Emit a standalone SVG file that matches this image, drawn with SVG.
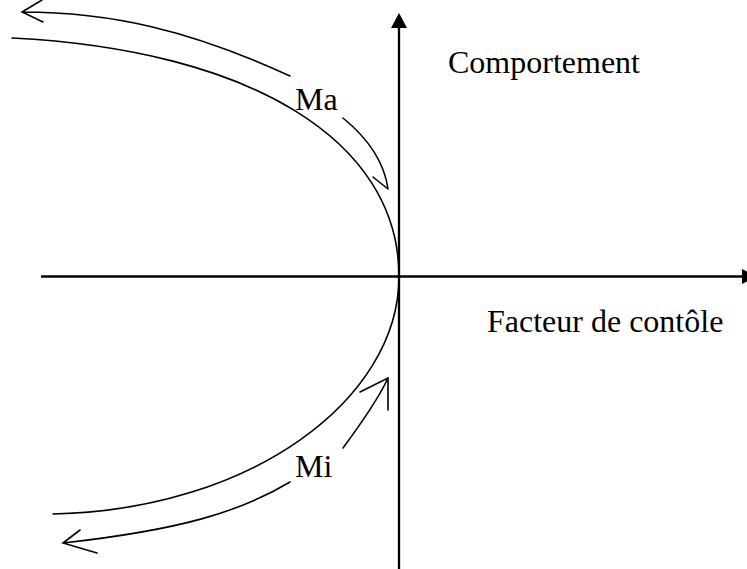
<svg xmlns="http://www.w3.org/2000/svg" width="747" height="569" viewBox="0 0 747 569">
<style>
.ax{stroke:#000;stroke-width:2.3;fill:none}
.cv{stroke:#000;stroke-width:1.6;fill:none;stroke-linecap:round;stroke-linejoin:miter}
.lbl{font-family:"Liberation Serif","Times New Roman",serif;font-size:32px;fill:#000}
</style>
<rect width="747" height="569" fill="#fff"/>
<g id="axes">
<line class="ax" x1="41" y1="276.5" x2="744" y2="276.5"/>
<polygon points="742,269 757,276.5 742,284" fill="#000"/>
<line class="ax" x1="399" y1="569" x2="399" y2="26"/>
<polygon points="399,13 391,28 407,28" fill="#000"/>
</g>
<g id="curve">
<path class="cv" d="M12,38 C250,50 399,140 399,276.5 C399,400 250,510 53,514"/>
</g>
<g id="connectors">
<path class="cv" d="M290,76 C190,30 110,12 22,12 M42,0 L22,12 L43,22"/>
<path class="cv" d="M343,118 C365,136 384,160 388,189 M373,177 L388,189"/>
<path class="cv" d="M343,448 C360,425 378,400 388,378 M360,392 L388,378 L388,410"/>
<path class="cv" d="M290,482 C240,512 180,530 63,543 M80,530 L63,543 L97,553"/>
</g>
<g id="labels">
<text class="lbl" x="448" y="73">Comportement</text>
<text class="lbl" x="487" y="332">Facteur de contôle</text>
<text class="lbl" x="295" y="110">Ma</text>
<text class="lbl" x="295" y="477">Mi</text>
</g>
</svg>
